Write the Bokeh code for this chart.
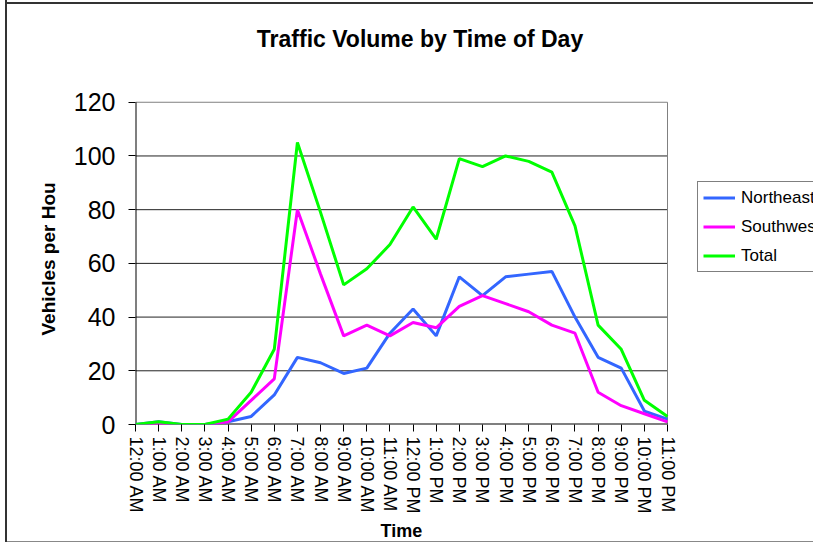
from bokeh.plotting import figure
from bokeh.models import (ColumnDataSource, FixedTicker, Label, Legend, LegendItem,
                          Range1d, Title)
from bokeh.embed import file_html
from bokeh.resources import INLINE

hours = ["12:00 AM", "1:00 AM", "2:00 AM", "3:00 AM", "4:00 AM", "5:00 AM",
         "6:00 AM", "7:00 AM", "8:00 AM", "9:00 AM", "10:00 AM", "11:00 AM",
         "12:00 PM", "1:00 PM", "2:00 PM", "3:00 PM", "4:00 PM", "5:00 PM",
         "6:00 PM", "7:00 PM", "8:00 PM", "9:00 PM", "10:00 PM", "11:00 PM"]
northeast = [0, 1, 0, 0, 1, 3, 11, 25, 23, 19, 21, 34, 43, 33, 55, 48, 55, 56, 57, 40, 25, 21, 5, 2]
southwest = [0, 0, 0, 0, 1, 9, 17, 80, 56, 33, 37, 33, 38, 36, 44, 48, 45, 42, 37, 34, 12, 7, 4, 1]
total = [0, 1, 0, 0, 2, 12, 28, 105, 79, 52, 58, 67, 81, 69, 99, 96, 100, 98, 94, 74, 37, 28, 9, 3]
y_ticks = [0, 20, 40, 60, 80, 100, 120]

FONT = "Liberation Sans"
W, H = 813, 542
LEFT, RIGHT_PLOT, TOP, BOTTOM = 135, 667, 102, 425   # plot-area edges in px

idx = list(range(len(hours)))
last = len(hours) - 1
ymax = y_ticks[-1]
src = ColumnDataSource(dict(x=idx, ne=northeast, sw=southwest, tot=total))

# the frame spans right edge and top edge of the canvas so that the legend and
# the title can be drawn inside it; the plot area itself is drawn explicitly
x_end = last * (W - LEFT) / (RIGHT_PLOT - LEFT)
y_end = ymax * BOTTOM / (BOTTOM - TOP)
px_x = (RIGHT_PLOT - LEFT) / last
px_y = (BOTTOM - TOP) / ymax

p = figure(width=W, height=H, output_backend="svg", toolbar_location=None,
           x_range=Range1d(0, x_end), y_range=Range1d(0, y_end),
           min_border_left=LEFT, min_border_right=0, min_border_top=0,
           min_border_bottom=H - BOTTOM)
p.border_fill_color = "white"
p.border_fill_alpha = 0
p.background_fill_color = "white"
p.background_fill_alpha = 0
p.outline_line_color = None
p.styles = {"box-shadow": "inset 5px 0 0 #ffffff, inset 7px 0 0 #333333, "
                          "inset 0 2px 0 #ffffff, inset 0 4px 0 #333333, "
                          "inset 0 -1px 0 #888888"}

title = Label(x=(419.5 - LEFT) / px_x, y=(BOTTOM - 39) / px_y,
              text="Traffic Volume by Time of Day", text_align="center",
              text_baseline="alphabetic", text_font=FONT, text_font_size="23px",
              text_font_style="bold", text_color="black")
p.add_layout(title)

# x axis
p.xaxis.ticker = FixedTicker(ticks=idx)
p.xaxis.major_label_overrides = {i: h for i, h in enumerate(hours)}
p.xaxis.major_label_orientation = "vertical"
p.xaxis.major_label_text_font = FONT
p.xaxis.major_label_text_font_size = "18px"
p.xaxis.major_label_text_color = "black"
p.xaxis.major_label_standoff = 5
p.xaxis.major_tick_out = 7
p.xaxis.major_tick_in = 0
p.xaxis.minor_tick_line_color = None
p.xaxis.axis_line_color = None
p.xaxis.major_tick_line_color = "black"

xlabel = Title(text="Time", align="left", offset=245, standoff=4,
               text_font=FONT, text_font_size="18px", text_font_style="bold",
               text_color="black")
p.add_layout(xlabel, "below")

# y axis
p.yaxis.ticker = FixedTicker(ticks=y_ticks)
p.yaxis.major_label_text_font = FONT
p.yaxis.major_label_text_font_size = "25px"
p.yaxis.major_label_text_color = "black"
p.yaxis.major_label_standoff = 13
p.yaxis.major_tick_out = 7
p.yaxis.major_tick_in = 0
p.yaxis.minor_tick_line_color = None
p.yaxis.axis_line_color = None
p.yaxis.major_tick_line_color = "black"

ylabel = Title(text="Vehicles per Hou", align="left", offset=89, standoff=23,
               text_font=FONT, text_font_size="19px", text_font_style="bold",
               text_color="black")
p.add_layout(ylabel, "left")

p.xgrid.grid_line_color = None
p.ygrid.grid_line_color = None

# plot-area background, gridlines and border
p.quad(left=[0], right=[last], bottom=[0], top=[ymax], fill_color="white",
       line_color=None)
grid_y = y_ticks[1:-1]
p.segment(x0=[0] * len(grid_y), x1=[last] * len(grid_y), y0=grid_y, y1=grid_y,
          line_color="#222222", line_width=1)
p.line([0, last, last], [ymax, ymax, 0], line_color="#808080", line_width=1)
p.line([0, last], [0, 0], line_color="black", line_width=2)
p.line([0, 0], [0, ymax], line_color="black", line_width=2)

r_ne = p.line("x", "ne", source=src, line_color="#3366FF", line_width=3)
r_sw = p.line("x", "sw", source=src, line_color="#FF00FF", line_width=3)
r_tot = p.line("x", "tot", source=src, line_color="#00FF00", line_width=3)

legend = Legend(items=[LegendItem(label="Northeast", renderers=[r_ne]),
                       LegendItem(label="Southwest", renderers=[r_sw]),
                       LegendItem(label="Total", renderers=[r_tot])],
                location=(697 - LEFT, BOTTOM - 273))
legend.label_text_font = FONT
legend.label_text_font_size = "17px"
legend.label_text_color = "black"
legend.glyph_width = 32
legend.glyph_height = 21
legend.label_height = 21
legend.label_standoff = 6
legend.padding = 5
legend.spacing = 8
legend.margin = 0
legend.border_line_color = "black"
legend.border_line_width = 1
legend.background_fill_color = "white"
legend.background_fill_alpha = 1
p.add_layout(legend, "center")

open("out.html", "w").write(file_html(p, INLINE))
